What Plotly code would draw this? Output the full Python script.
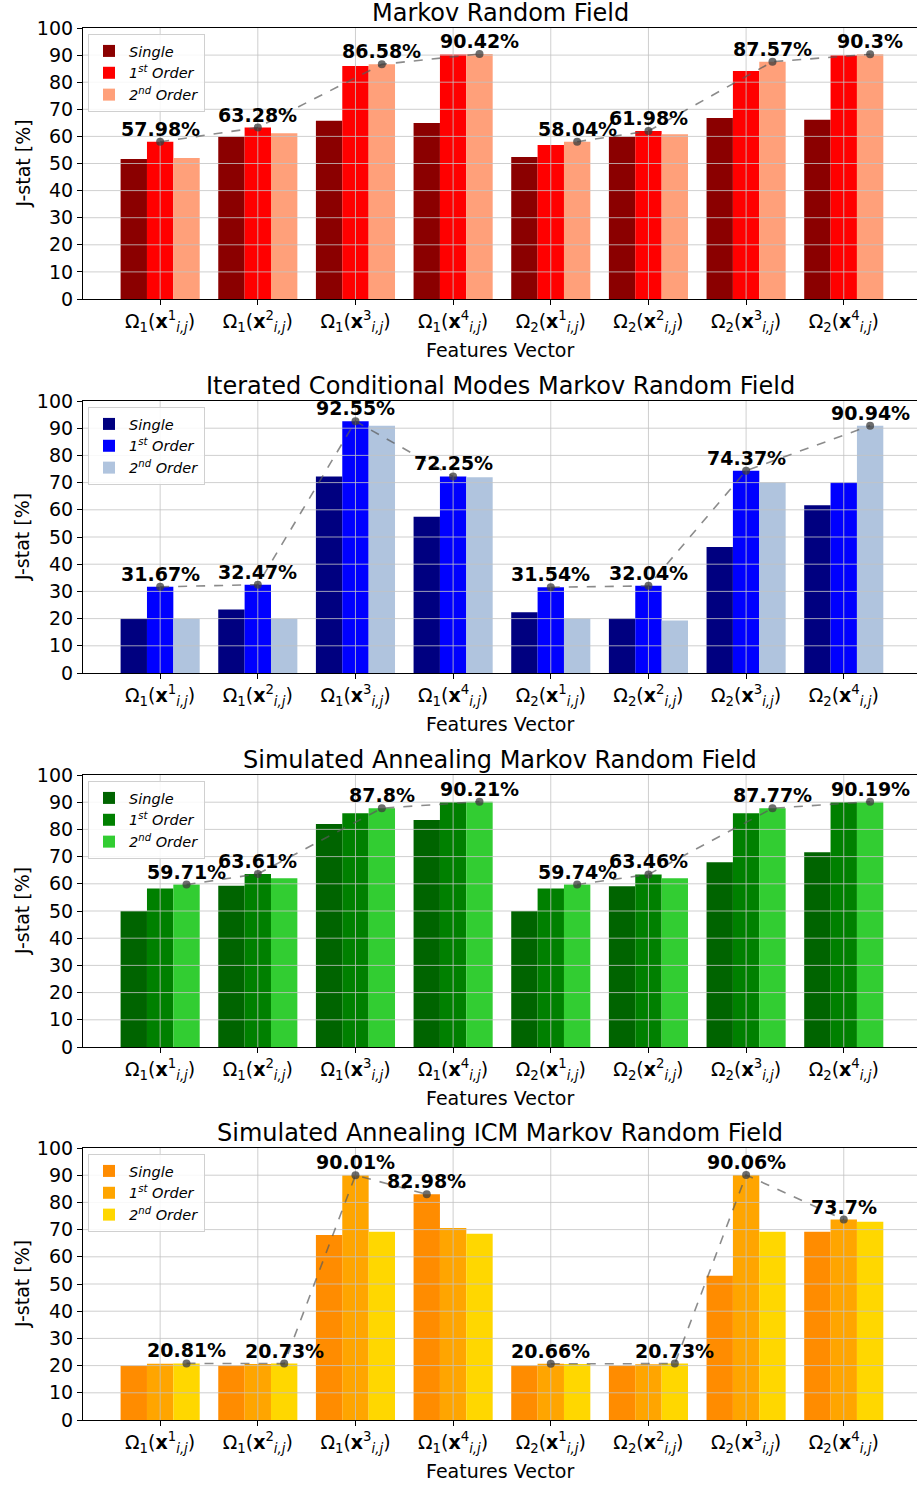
import plotly.graph_objects as go

# ---------------- data ----------------
categories = [
    "Ω<sub>1</sub>(<b>x</b><sup>1</sup><sub><i>i,j</i></sub>)",
    "Ω<sub>1</sub>(<b>x</b><sup>2</sup><sub><i>i,j</i></sub>)",
    "Ω<sub>1</sub>(<b>x</b><sup>3</sup><sub><i>i,j</i></sub>)",
    "Ω<sub>1</sub>(<b>x</b><sup>4</sup><sub><i>i,j</i></sub>)",
    "Ω<sub>2</sub>(<b>x</b><sup>1</sup><sub><i>i,j</i></sub>)",
    "Ω<sub>2</sub>(<b>x</b><sup>2</sup><sub><i>i,j</i></sub>)",
    "Ω<sub>2</sub>(<b>x</b><sup>3</sup><sub><i>i,j</i></sub>)",
    "Ω<sub>2</sub>(<b>x</b><sup>4</sup><sub><i>i,j</i></sub>)",
]
feature_group = [1, 1, 1, 1, 2, 2, 2, 2]  # Ω1 / Ω2 families (max-line is drawn per family)
series_names = ["<i>Single</i>", "<i>1<sup>st</sup> Order</i>", "<i>2<sup>nd</sup> Order</i>"]
yticks = [0, 10, 20, 30, 40, 50, 60, 70, 80, 90, 100]

titles = [
    "Markov Random Field",
    "Iterated Conditional Modes Markov Random Field",
    "Simulated Annealing Markov Random Field",
    "Simulated Annealing ICM Markov Random Field",
]

mrf_single = [51.7, 59.9, 65.8, 64.9, 52.4, 59.9, 66.8, 66.1]
mrf_first = [57.98, 63.28, 86.0, 90.2, 56.8, 61.98, 84.1, 89.9]
mrf_second = [52.0, 61.2, 86.58, 90.42, 58.04, 60.8, 87.57, 90.3]

icm_single = [19.9, 23.3, 72.2, 57.4, 22.3, 20.0, 46.3, 61.7]
icm_first = [31.67, 32.47, 92.55, 72.25, 31.54, 32.04, 74.37, 70.0]
icm_second = [19.9, 19.9, 90.9, 72.0, 20.0, 19.3, 70.0, 90.94]

sa_single = [50.0, 59.3, 82.0, 83.5, 50.0, 59.1, 67.9, 71.6]
sa_first = [58.3, 63.61, 85.9, 90.1, 58.3, 63.46, 85.9, 90.1]
sa_second = [59.71, 62.0, 87.8, 90.21, 59.74, 62.0, 87.77, 90.19]

saicm_single = [19.9, 20.0, 68.0, 82.98, 20.0, 20.0, 53.0, 69.2]
saicm_first = [20.7, 20.6, 90.01, 70.6, 20.66, 20.5, 90.06, 73.7]
saicm_second = [20.81, 20.73, 69.2, 68.5, 20.6, 20.73, 69.2, 72.9]

panels = [
    (mrf_single, mrf_first, mrf_second),
    (icm_single, icm_first, icm_second),
    (sa_single, sa_first, sa_second),
    (saicm_single, saicm_first, saicm_second),
]
colors = [
    ["#8B0000", "#FF0000", "#FFA07A"],
    ["#000080", "#0000FF", "#B0C4DE"],
    ["#006400", "#008000", "#32CD32"],
    ["#FF8C00", "#FFA500", "#FFD700"],
]

# ---------------- layout geometry ----------------
W, H = 917, 1485
panel_px = [(28, 299), (401, 673), (775, 1047), (1148, 1420)]  # top, bottom in page px
M_T = panel_px[0][0]
M_B = H - panel_px[-1][1]
M_L = 83
M_R = 0
PH = H - M_T - M_B
PW = W - M_L - M_R


def py2paper(py):
    return (H - M_B - py) / PH


domains = [[py2paper(b), py2paper(t)] for t, b in panel_px]

BAR_W = 0.27
XR = [-0.79, 7.75]
FONT = "DejaVu Sans, Verdana, sans-serif"

fig = go.Figure()
annotations = []
idx = list(range(len(categories)))

for p, (data, cols) in enumerate(zip(panels, colors)):
    ax = "" if p == 0 else str(p + 1)
    xref, yref = "x" + ax, "y" + ax
    leg = "legend" if p == 0 else "legend" + str(p + 1)
    # bars
    for k in range(3):
        fig.add_trace(go.Bar(
            x=idx, y=data[k], width=BAR_W, offset=-1.5 * BAR_W + k * BAR_W,
            marker=dict(color=cols[k], line=dict(width=0)),
            name=series_names[k], xaxis=xref, yaxis=yref, legend=leg,
            hoverinfo="skip",
        ))
    # gridlines drawn above bars (matplotlib style)
    gx, gy = [], []
    for t in yticks[1:-1]:
        gx += [XR[0], XR[1], None]
        gy += [t, t, None]
    for i in idx:
        gx += [i, i, None]
        gy += [yticks[0], yticks[-1], None]
    fig.add_trace(go.Scatter(
        x=gx, y=gy, mode="lines", line=dict(color="rgba(195,195,195,0.8)", width=1),
        xaxis=xref, yaxis=yref, showlegend=False, hoverinfo="skip",
    ))
    # max line, one per feature family
    mx, my, lx, ly = [], [], [], []
    for i in idx:
        vals = [data[0][i], data[1][i], data[2][i]]
        k = vals.index(max(vals))
        xv = i + (k - 1) * BAR_W
        if i > 0 and feature_group[i] != feature_group[i - 1]:
            lx.append(None)
            ly.append(None)
        lx.append(xv)
        ly.append(vals[k])
        mx.append(xv)
        my.append(vals[k])
    fig.add_trace(go.Scatter(
        x=lx, y=ly, mode="lines+markers", connectgaps=False,
        line=dict(color="rgba(90,90,90,0.7)", width=1.6, dash="dash"),
        marker=dict(color="rgba(60,60,60,0.75)", size=8),
        xaxis=xref, yaxis=yref, showlegend=False, hoverinfo="skip",
    ))
    for x, y in zip(mx, my):
        annotations.append(dict(
            x=x, y=y, xref=xref, yref=yref, text="<b>%s%%</b>" % ("%g" % y),
            showarrow=False, yanchor="middle", xanchor="center", yshift=13,
            font=dict(family=FONT, size=19, color="black"),
        ))
    # title
    annotations.append(dict(
        x=0.5, y=domains[p][1], xref="paper", yref="paper", text=titles[p],
        showarrow=False, xanchor="center", yanchor="bottom", yshift=-1,
        font=dict(family=FONT, size=24, color="black"),
    ))
    # x axis title
    annotations.append(dict(
        x=0.5, y=domains[p][0], xref="paper", yref="paper", text="Features Vector",
        showarrow=False, xanchor="center", yanchor="middle", yshift=-51,
        font=dict(family=FONT, size=19, color="black"),
    ))
    # y axis title
    annotations.append(dict(
        x=(22 - 83) / PW, y=(domains[p][0] + domains[p][1]) / 2, xref="paper", yref="paper",
        text="J-stat [%]", textangle=-90, showarrow=False, xanchor="center", yanchor="middle",
        font=dict(family=FONT, size=19, color="black"),
    ))

    axis_common = dict(
        showline=True, linecolor="black", linewidth=1.2, mirror=True,
        ticks="outside", ticklen=5, tickcolor="black", showgrid=False, zeroline=False,
        tickfont=dict(family=FONT, size=19, color="black"),
    )
    fig.layout["xaxis" + ax] = dict(
        axis_common, domain=[0, 1], range=XR, anchor=yref,
        tickmode="array", tickvals=idx, ticktext=categories,
    )
    fig.layout["yaxis" + ax] = dict(
        axis_common, domain=domains[p], range=[yticks[0], yticks[-1]], anchor=xref,
        tickmode="array", tickvals=yticks,
    )
    fig.layout[leg] = dict(
        x=(88 - 83) / PW, y=domains[p][1] - 6 / PH, xanchor="left", yanchor="top",
        xref="paper", yref="paper",
        bgcolor="rgba(255,255,255,0.85)", bordercolor="#d0d0d0", borderwidth=1,
        font=dict(family=FONT, size=14.5, color="black"), tracegroupgap=0,
    )

fig.update_layout(
    width=W, height=H, barmode="overlay",
    margin=dict(t=M_T, b=M_B, l=M_L, r=M_R),
    plot_bgcolor="white", paper_bgcolor="white",
    annotations=annotations,
    font=dict(family=FONT, color="black"),
)

fig.write_html(
    "out.html",
    config={"displayModeBar": False},
    post_script="document.body.style.margin='0';document.body.style.overflow='hidden';",
)
